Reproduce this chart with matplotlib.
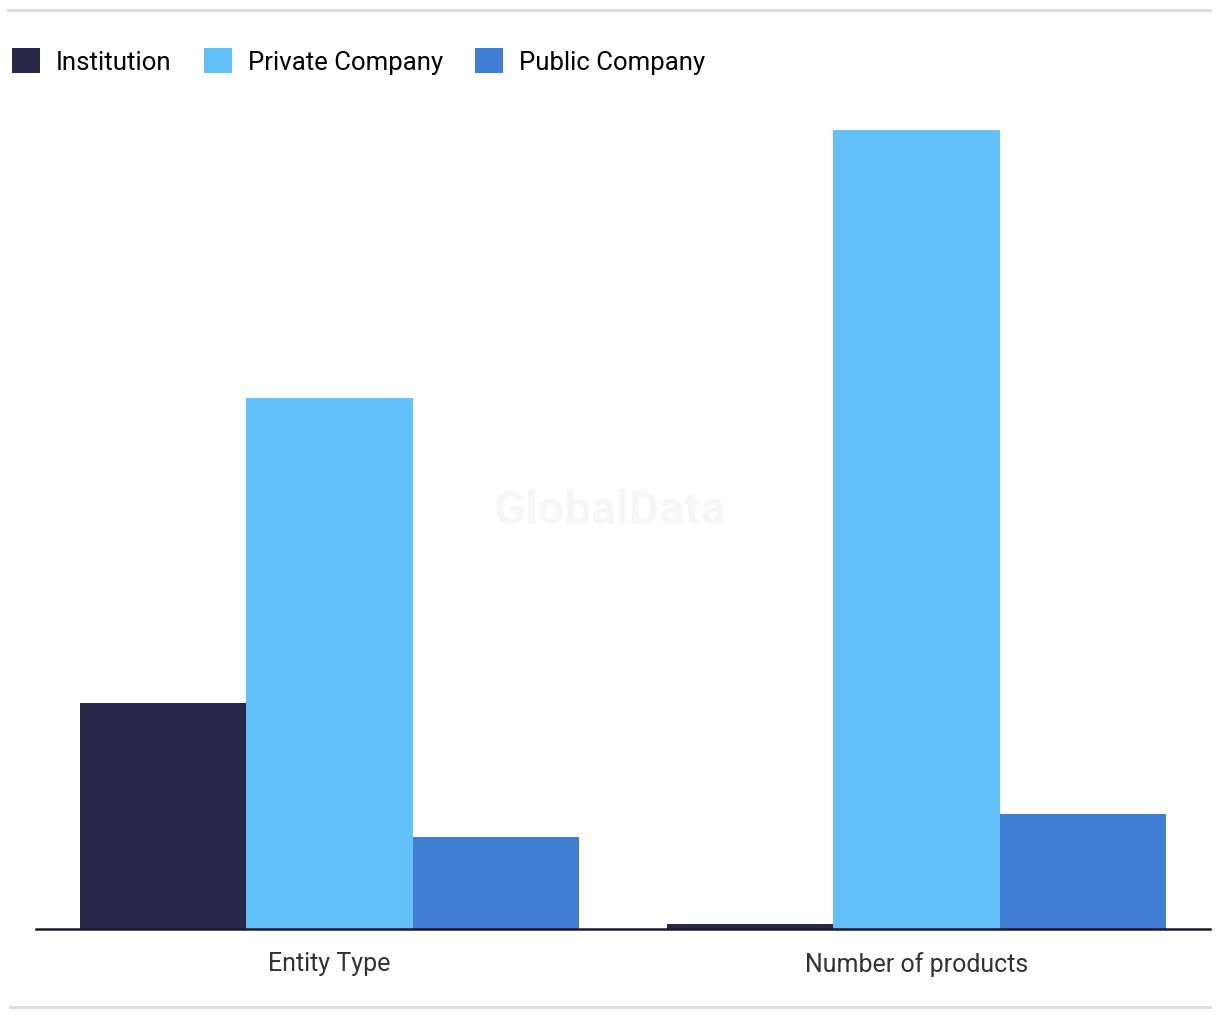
import numpy as np
import matplotlib.pyplot as plt
from matplotlib.patches import Patch
from matplotlib.lines import Line2D

plt.rcParams['font.family'] = ['Roboto', 'DejaVu Sans']

categories = ["Entity Type", "Number of products"]
series = ["Institution", "Private Company", "Public Company"]
institution = [17, 0.4]
private_company = [40, 60.2]
public_company = [6.9, 8.7]
colors = ["#28284a", "#62c1f9", "#407ed6"]

fig = plt.figure(figsize=(12.2, 10.2), dpi=100)
ax = fig.add_axes([0.0295, 0.0882, 0.9623, 0.8137])

x = np.arange(len(categories))
w = 0.2836
for i, vals in enumerate([institution, private_company, public_company]):
    ax.bar(x + (i - 1) * w, vals, width=w, color=colors[i], label=series[i])

ax.set_xlim(-0.5, 1.5)
ax.set_ylim(0, 62.5)
ax.set_yticks([])
ax.set_xticks(x)
ax.set_xticklabels(categories, fontsize=18, color="#333333")
ax.tick_params(axis='x', length=0, pad=16)
for s in ['top', 'right', 'left']:
    ax.spines[s].set_visible(False)
ax.spines['bottom'].set_color("#1a1a2e")
ax.spines['bottom'].set_linewidth(1.8)

# watermark
fig.text(610 / 1220, 1 - 511 / 1020, "GlobalData", ha='center', va='center',
         fontsize=34, fontweight='bold', color="#f7f7f7", zorder=0)

handles = [Patch(facecolor=c, label=s) for c, s in zip(colors, series)]
fig.legend(handles=handles, loc='center left', bbox_to_anchor=(4 / 1220, 1 - 62 / 1020),
           ncol=3, frameon=False, fontsize=18.5, handlelength=1.1, handleheight=1.1,
           handletextpad=0.62, columnspacing=1.25, borderaxespad=0, borderpad=0.3)

# frame lines top and bottom
fig.add_artist(Line2D([8 / 1220, 1210 / 1220], [1 - 11 / 1020] * 2, color="#dcdcdc", lw=2))
fig.add_artist(Line2D([10 / 1220, 1210 / 1220], [1 - 1008 / 1020] * 2, color="#dcdcdc", lw=2))

fig.savefig("out.png", dpi=100, facecolor="white")
